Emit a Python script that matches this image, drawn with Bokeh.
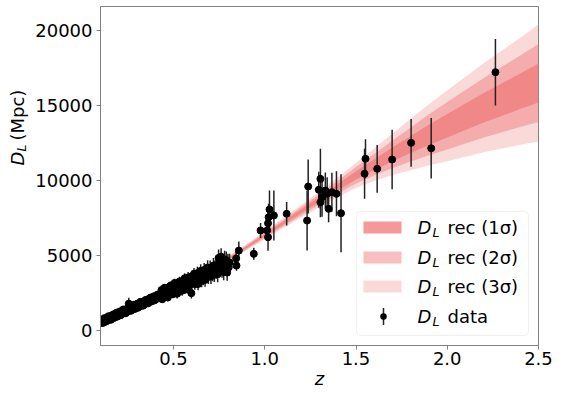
import numpy as np
from bokeh.plotting import figure
from bokeh.layouts import row
from bokeh.models import Range1d, FixedTicker, ColumnDataSource, Label, BoxAnnotation
from bokeh.embed import file_html
from bokeh.resources import INLINE

# ---------------- data ----------------
z_rec = [0.1, 0.2, 0.3, 0.4, 0.5, 0.6, 0.7, 0.8, 0.9, 1.0,
         1.1, 1.2, 1.3, 1.4, 1.5, 1.6, 1.7, 1.8, 1.9, 2.0,
         2.1, 2.2, 2.3, 2.4, 2.5]
dl_rec = [540, 1070, 1640, 2230, 2820, 3430, 4080, 4780, 5550, 6350,
          7150, 7950, 8750, 9550, 10350, 11050, 11750, 12400, 13050, 13650,
          14250, 14850, 15400, 15950, 16500]
sig_rec = [10, 15, 20, 25, 30, 38, 46, 56, 70, 88,
           110, 140, 175, 220, 275, 360, 460, 570, 680, 790,
           890, 990, 1090, 1190, 1300]

z_lo = [0.101, 0.104, 0.109, 0.113, 0.118, 0.121, 0.126, 0.131, 0.134, 0.139,
        0.143, 0.148, 0.152, 0.157, 0.161, 0.166, 0.171, 0.174, 0.179, 0.184,
        0.188, 0.192, 0.197, 0.202, 0.206, 0.211, 0.215, 0.219, 0.224, 0.229,
        0.233, 0.238, 0.242, 0.247, 0.251, 0.255, 0.259, 0.264, 0.268, 0.273,
        0.278, 0.282, 0.287, 0.291, 0.296, 0.301, 0.305, 0.309, 0.314, 0.319,
        0.323, 0.328, 0.333, 0.337, 0.342, 0.346, 0.351, 0.356, 0.361, 0.365,
        0.369, 0.374, 0.379, 0.383, 0.388, 0.392, 0.397, 0.402, 0.407, 0.411,
        0.416, 0.421, 0.425]
dl_lo = [565, 710, 500, 690, 530, 825, 640, 820, 625, 800,
         950, 720, 910, 715, 1005, 875, 1080, 835, 1035, 920,
         1190, 925, 1160, 1050, 1270, 1020, 1220, 1100, 1400, 1190,
         1390, 1150, 1385, 1240, 1520, 1790, 1320, 1560, 1320, 1550,
         1440, 1710, 1430, 1660, 1560, 1790, 1510, 1720, 1610, 1910,
         1690, 1900, 1650, 1900, 1750, 2030, 1870, 2070, 1810, 2050,
         1920, 2200, 1930, 2170, 2050, 2280, 2010, 2240, 2100, 2390,
         2190, 2410, 2170]
err_lo = [60, 65, 60, 70, 65, 70, 65, 75, 70, 75,
          70, 80, 75, 80, 85, 80, 90, 85, 90, 85,
          95, 90, 100, 95, 100, 105, 100, 110, 105, 110,
          115, 110, 120, 115, 120, 400, 125, 120, 130, 125,
          130, 135, 130, 140, 135, 140, 145, 140, 150, 145,
          150, 155, 150, 160, 155, 160, 165, 160, 170, 165,
          170, 175, 170, 180, 175, 180, 185, 180, 190, 185,
          190, 195, 190]

z_mid = [0.430, 0.434, 0.438, 0.442, 0.447, 0.451, 0.456, 0.460, 0.465, 0.469,
         0.474, 0.478, 0.483, 0.487, 0.492, 0.497, 0.501, 0.506, 0.510, 0.515,
         0.520, 0.524, 0.529, 0.533, 0.538, 0.543, 0.547, 0.552, 0.557, 0.561,
         0.566, 0.570, 0.575, 0.580, 0.584, 0.589, 0.594, 0.598, 0.603, 0.607,
         0.612, 0.617, 0.621, 0.626, 0.631, 0.635, 0.640, 0.645, 0.649, 0.654,
         0.659, 0.663, 0.668, 0.673, 0.677, 0.682, 0.687, 0.691, 0.696, 0.701,
         0.705, 0.710, 0.714, 0.719, 0.724, 0.728, 0.733, 0.738, 0.742, 0.747,
         0.752, 0.756, 0.761, 0.766, 0.770, 0.775, 0.780, 0.784, 0.789, 0.794,
         0.798, 0.803, 0.807]
dl_mid = [2330, 2700, 2080, 2550, 2280, 2850, 2230, 2550, 2830, 2200,
          2680, 2400, 2990, 2560, 2890, 2420, 2790, 3170, 2540, 2970,
          2450, 3120, 2800, 3270, 2700, 3080, 2650, 3330, 3060, 3480,
          2810, 3280, 3010, 3540, 2710, 3440, 3070, 2490, 3620, 3240,
          3770, 3100, 3520, 3250, 3830, 3100, 3730, 3460, 3980, 3310,
          3740, 3460, 4040, 3370, 3890, 3620, 4200, 3570, 3900, 4180,
          3600, 4030, 3800, 4330, 3760, 4180, 3960, 4390, 3760, 4840,
          4070, 4540, 4920, 4050, 4470, 3900, 4730, 4250, 4680, 3860,
          4530, 4210, 4530]
err_mid = [180, 300, 190, 300, 200, 220, 230, 220, 240, 250,
           240, 260, 270, 260, 280, 270, 290, 280, 300, 290,
           310, 300, 320, 310, 330, 320, 340, 330, 350, 340,
           360, 350, 370, 360, 350, 380, 370, 360, 390, 380,
           400, 390, 410, 400, 420, 410, 430, 420, 440, 430,
           450, 440, 460, 450, 470, 460, 480, 470, 490, 480,
           500, 490, 510, 500, 520, 510, 530, 520, 540, 560,
           530, 550, 570, 540, 560, 550, 580, 560, 590, 540,
           580, 570, 580]

z_hi = [0.843, 0.845, 0.858, 0.940, 0.977, 1.013, 1.018, 1.018, 1.021, 1.026,
        1.050, 1.120, 1.232, 1.238, 1.305, 1.296, 1.314, 1.305, 1.332, 1.342,
        1.350, 1.368, 1.393, 1.418, 1.547, 1.552, 1.616, 1.698, 1.802, 1.912,
        2.264]
dl_hi = [4800, 4330, 5330, 5110, 6670, 6670, 6220, 7150, 7550, 8070,
         7670, 7780, 7330, 9600, 10110, 9380, 8890, 8550, 9330, 9110,
         8110, 9220, 9110, 7820, 10450, 11450, 10780, 11400, 12510, 12150,
         17220]
err_hi = [400, 350, 600, 400, 500, 700, 900, 800, 900, 1270,
          1670, 780, 2000, 1800, 2000, 1200, 1300, 1000, 1200, 1100,
          900, 1300, 1500, 2600, 1670, 1300, 1590, 1980, 1590, 2010,
          2220]

x_ticks = [0.5, 1.0, 1.5, 2.0, 2.5]
x_tick_labels = ["0.5", "1.0", "1.5", "2.0", "2.5"]
y_ticks = [0, 5000, 10000, 15000, 20000]
y_tick_labels = ["0", "5000", "10000", "15000", "20000"]

legend_labels = ["rec (1σ)", "rec (2σ)", "rec (3σ)", "data"]
band_alphas = [0.8, 0.5, 0.3]

# ---------------- layout constants ----------------
FONT = "DejaVu Sans"
AX = "#808080"
LW = 30                      # width of the strip that carries the y-axis title
W, H = 562 - LW, 397
ML, MR, MT, MB = 100 - LW, 24, 6, 52


def mk(x, y, text, size="18px", style="normal", angle=0, baseline="middle", align="left"):
    return Label(x=x, y=y, x_units="screen", y_units="screen", text=text,
                 text_font=FONT, text_font_size=size, text_font_style=style,
                 text_baseline=baseline, text_align=align, angle=angle,
                 text_color="black")

# ---------------- y-axis title strip ----------------
lf = figure(width=LW, height=H, output_backend="svg", toolbar_location=None,
            x_range=Range1d(0, 1), y_range=Range1d(0, 1),
            x_axis_location=None, y_axis_location=None, min_border=0)
lf.outline_line_color = None
lf.grid.visible = False
lf.background_fill_color = "white"
lf.border_fill_color = "white"
lf.add_layout(mk(16.5, 180, "D", style="italic", angle=np.pi / 2))
lf.add_layout(mk(21, 194, "L", size="12.6px", style="italic", angle=np.pi / 2))
lf.add_layout(mk(16.5, 205, "(Mpc)", angle=np.pi / 2))

# ---------------- main figure ----------------
p = figure(width=W, height=H, output_backend="svg", toolbar_location=None,
           x_range=Range1d(0.1, 2.5), y_range=Range1d(-1000, 21600),
           min_border_left=ML, min_border_right=MR,
           min_border_top=MT, min_border_bottom=MB)
p.background_fill_color = "white"
p.border_fill_color = "white"
p.outline_line_color = AX
p.outline_line_width = 1
p.xgrid.visible = False
p.ygrid.visible = False

for ax, ticks, labels in ((p.xaxis, x_ticks, x_tick_labels), (p.yaxis, y_ticks, y_tick_labels)):
    ax.ticker = FixedTicker(ticks=ticks)
    ax.major_label_overrides = {t: l for t, l in zip(ticks, labels)}
    ax.axis_line_color = AX
    ax.major_tick_line_color = AX
    ax.major_tick_in = 0
    ax.major_tick_out = 4
    ax.minor_tick_line_color = None
    ax.major_label_text_font = FONT
    ax.major_label_text_font_size = "18px"
    ax.major_label_text_color = "black"
p.xaxis.major_label_standoff = 2
p.yaxis.major_label_standoff = 4
p.xaxis.axis_label = "z"
p.xaxis.axis_label_text_font = FONT
p.xaxis.axis_label_text_font_size = "18px"
p.xaxis.axis_label_text_font_style = "italic"
p.xaxis.axis_label_text_color = "black"
p.xaxis.axis_label_standoff = 0

# bands
zr = np.array(z_rec)
dr = np.array(dl_rec)
sr = np.array(sig_rec)
for n, a in ((3, band_alphas[2]), (2, band_alphas[1]), (1, band_alphas[0])):
    p.varea(x=zr, y1=dr - n * sr, y2=dr + n * sr, fill_color="lightcoral", fill_alpha=a)

# data
z_all = np.array(z_lo + z_mid + z_hi)
d_all = np.array(dl_lo + dl_mid + dl_hi, dtype=float)
e_all = np.array(err_lo + err_mid + err_hi, dtype=float)
src = ColumnDataSource(dict(z=z_all, d=d_all, lo=d_all - e_all, hi=d_all + e_all))
p.segment(x0="z", y0="lo", x1="z", y1="hi", source=src, line_color="#222222", line_width=1.5)
p.scatter(x="z", y="d", source=src, size=7, fill_color="black", line_color="black")

# ---------------- legend (screen units relative to frame) ----------------
def box(l, r, b, t, **kw):
    p.add_layout(BoxAnnotation(left=l, right=r, bottom=b, top=t,
                               left_units="screen", right_units="screen",
                               bottom_units="screen", top_units="screen", **kw))

box(256, 428, 10, 134, fill_color="white", fill_alpha=0.8,
    line_color="#cccccc", line_width=1, border_radius=4)
entry_y = [118, 88, 59, 29]
for yy, a in zip(entry_y[:3], band_alphas):
    box(263, 301, yy - 6, yy + 6, fill_color="lightcoral", fill_alpha=a, line_color=None)
box(282.25, 283.75, entry_y[3] - 8.5, entry_y[3] + 8.5, fill_color="#222222", fill_alpha=1, line_color=None)
box(279.75, 286.25, entry_y[3] - 3.25, entry_y[3] + 3.25, fill_color="black", fill_alpha=1,
    line_color=None, border_radius=3)
for yy, t in zip(entry_y, legend_labels):
    p.add_layout(mk(317, yy, "D", style="italic"))
    p.add_layout(mk(332, yy - 5, "L", size="12.6px", style="italic"))
    p.add_layout(mk(347, yy, t))

layout = row(lf, p, spacing=0)
open("out.html", "w").write(file_html(layout, INLINE))
